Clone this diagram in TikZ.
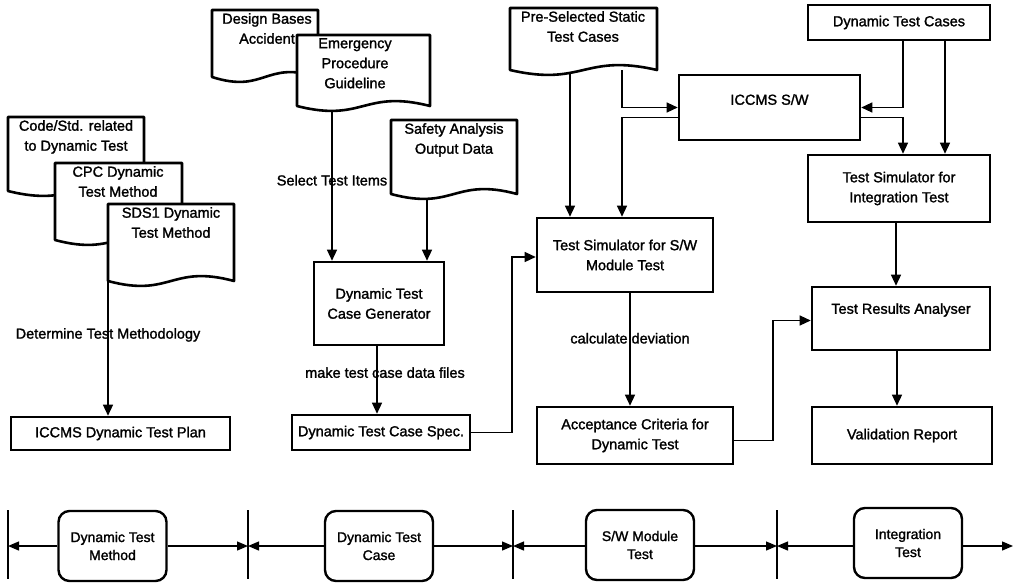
\documentclass[tikz,border=0pt]{standalone}
\usepackage{fontspec}
\setmainfont[FakeBold=1.5]{Liberation Sans}
\usetikzlibrary{arrows.meta,calc}
\pgfdeclarelayer{bg}
\pgfsetlayers{bg,main}
\newcommand{\docshape}[7]{%
  \filldraw[docline] (#2,#5) -- (#2,#3) -- (#4,#3) -- (#4,#5)
     .. controls ({(#2+#4)/2},{#5-17}) and ({(#2+#4)/2},{#5+17}) .. (#2,#5) -- cycle;
  \node[doctext, anchor=north] (#1) at (#6,#3+3) {#7};
  \coordinate (#1-bl) at (#2,#5);
}
\begin{document}
\begin{tikzpicture}[x=1pt,y=-1pt,
  font=\fontsize{14.5}{20}\selectfont,
  pbox/.style={draw=black, line width=2.6pt, fill=white, rectangle, inner sep=0pt, align=center},
  docline/.style={draw=black, fill=white, line width=2.6pt, line join=round},
  doctext/.style={inner sep=0pt, align=center},
  conn/.style={draw=black, line width=1.3pt},
  arr/.style={conn, -{Triangle[length=11pt,width=10pt]}},
  lbl/.style={inner sep=0pt, fill=none},
  phase/.style={draw=black, line width=2.4pt, rounded corners=11pt, fill=white, inner sep=0pt, align=center, minimum width=108pt, minimum height=70pt, font=\fontsize{14}{18}\selectfont},
  tickline/.style={draw=black, line width=1.2pt},
  barr/.style={conn, -{Triangle[length=11pt,width=9pt]}}
]
\useasboundingbox (0,0) rectangle (1017,584);
\begin{pgfonlayer}{bg}
\fill[white] (0,0) rectangle (1017,584);
\end{pgfonlayer}

% ---- documents (wavy bottom) ----
\docshape{code}{8}{117}{144}{191}{76}{Code/Std. related\\to Dynamic Test}
\docshape{cpc}{55}{163}{182}{240}{118}{CPC Dynamic\\Test Method}
\docshape{sds}{108}{204}{234}{281}{171}{SDS1 Dynamic\\Test Method}
\docshape{dba}{212}{10}{318}{77}{267}{Design Bases\\Accident}
\docshape{emg}{297}{35}{430}{106}{355}{Emergency\\Procedure\\Guideline}
\docshape{saf}{391}{120}{517}{194}{454}{Safety Analysis\\Output Data}
\docshape{pre}{510}{8}{657}{70}{583}{Pre-Selected Static\\Test Cases}

% ---- boxes ----
\node[pbox, minimum width=219pt, minimum height=33pt] (plan) at (120.5,433.5) {ICCMS Dynamic Test Plan};
\node[pbox, minimum width=130pt, minimum height=83pt] (gen) at (379,303.5) {Dynamic Test\\Case Generator};
\node[pbox, minimum width=178pt, minimum height=35pt] (spec) at (381,432.5) {Dynamic Test Case Spec.};
\node[pbox, minimum width=176pt, minimum height=74pt] (sws) at (625,255) {Test Simulator for S/W\\Module Test};
\node[pbox, minimum width=181pt, minimum height=65pt, text depth=16pt] (iccms) at (769.5,107.5) {ICCMS S/W};
\node[pbox, minimum width=182pt, minimum height=35pt] (dtc) at (899,22.5) {Dynamic Test Cases};
\node[pbox, minimum width=182pt, minimum height=67pt] (its) at (899,188.5) {Test Simulator for\\Integration Test};
\node[pbox, minimum width=178pt, minimum height=63pt, text depth=20pt] (tra) at (901,318.5) {Test Results Analyser};
\node[pbox, minimum width=196pt, minimum height=57pt] (acc) at (635,435.5) {Acceptance Criteria for\\Dynamic Test};
\node[pbox, minimum width=180pt, minimum height=57pt] (val) at (902,435.5) {Validation Report};

% ---- connectors ----
\begin{pgfonlayer}{bg}
\draw[arr] (sds-bl) -- node[lbl, pos=0.40] {Determine Test Methodology} (sds-bl |- plan.north);
\draw[arr] (332,0 |- emg-bl) -- node[lbl, pos=0.48] {Select Test Items} (332,0 |- gen.north);
\draw[arr] (427,0 |- saf-bl) -- (427,0 |- gen.north);
\draw[arr] (377,0 |- gen.south) -- node[lbl, pos=0.39, xshift=8pt] {make test case data files} (377,0 |- spec.north);
\draw[arr] (spec.east) -- (512,0 |- spec.east) |- ($(sws.west)+(0,2)$);
\draw[arr] (570,0 |- pre-bl) -- (570,0 |- sws.north);
\draw[arr] (622,0 |- pre-bl) |- (iccms.west);
\draw[arr] ($(iccms.west)+(0,10)$) -| (622,0 |- sws.north);
\draw[arr] (903,0 |- dtc.south) |- (iccms.east);
\draw[arr] ($(iccms.east)+(0,10)$) -| (903,0 |- its.north);
\draw[arr] (945,0 |- dtc.south) -- (945,0 |- its.north);
\draw[arr] (896,0 |- its.south) -- (896,0 |- tra.north);
\draw[arr] (630,0 |- sws.south) -- node[lbl, pos=0.40] {calculate deviation} (630,0 |- acc.north);
\draw[arr] ($(acc.east)+(0,5)$) -- (773,0 |- {$(acc.east)+(0,5)$}) |- ($(tra.west)+(0,2)$);
\draw[arr] (897,0 |- tra.south) -- (897,0 |- val.north);
\end{pgfonlayer}

% ---- bottom phase row ----
\coordinate (t0) at (8,546);
\coordinate (t1) at (248,546);
\coordinate (t2) at (513,546);
\coordinate (t3) at (777,546);
\coordinate (tend) at (1013,546);
\foreach \t in {t0,t1,t2,t3} {
  \draw[tickline] ($(\t)+(0,-36)$) -- ($(\t)+(0,33)$);
}
\node[phase] (p1) at (112.5,546) {Dynamic Test\\Method};
\node[phase] (p2) at (379,546) {Dynamic Test\\Case};
\node[phase] (p3) at (640,545) {S/W Module\\Test};
\node[phase] (p4) at (908,543) {Integration\\Test};
\draw[barr] (p1.west |- t0) -- (t0);
\draw[barr] (p1.east |- t1) -- (t1);
\draw[barr] (p2.west |- t1) -- (t1);
\draw[barr] (p2.east |- t2) -- (t2);
\draw[barr] (p3.west |- t2) -- (t2);
\draw[barr] (p3.east |- t3) -- (t3);
\draw[barr] (p4.west |- t3) -- (t3);
\draw[barr] (p4.east |- tend) -- (tend);
\end{tikzpicture}
\end{document}
